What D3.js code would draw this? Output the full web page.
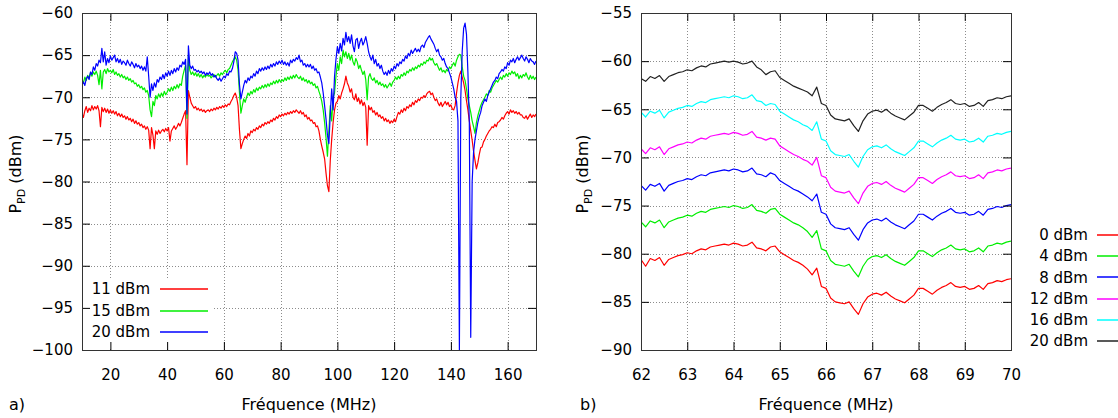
<!DOCTYPE html>
<html><head><meta charset="utf-8">
<script src="https://cdn.jsdelivr.net/npm/d3@7"></script>
<style>
body{margin:0;background:#fff;}
svg{display:block;font-family:"DejaVu Sans",Verdana,sans-serif;}
</style></head><body>
<svg id="c" width="1118" height="418"></svg>
<script>
// ---------- Panel a) : 10–170 MHz, sampled every 0.5 MHz ----------
const freqA = d3.range(321).map(i => 10 + i * 0.5);
const xTicksA = [20, 40, 60, 80, 100, 120, 140, 160];
const yTicksA = [-60, -65, -70, -75, -80, -85, -90, -95, -100];
const labelsA = ["11 dBm", "15 dBm", "20 dBm"];

const p11 = [
-71.9,-72.4,-71.6,-71.1,-71.8,-71.3,-71.6,-71.0,-71.5,-71.1,
-71.4,-71.0,-71.6,-73.5,-71.2,-71.7,-71.3,-71.8,-71.4,-71.9,
-71.5,-71.9,-71.6,-72.0,-71.7,-72.2,-71.9,-72.3,-72.0,-72.4,
-72.2,-72.6,-72.3,-72.7,-72.5,-72.9,-72.6,-73.1,-72.8,-73.2,
-73.0,-73.4,-73.2,-73.6,-73.4,-73.8,-73.5,-73.9,-76.1,-73.6,
-74.5,-76.1,-74.0,-74.4,-73.9,-74.3,-74.0,-73.8,-74.1,-73.7,
-74.0,-73.6,-75.2,-74.0,-73.7,-73.4,-73.8,-73.5,-73.1,-73.4,
-73.0,-72.5,-72.0,-71.6,-78.0,-69.2,-70.0,-70.7,-71.0,-71.3,
-71.1,-71.5,-71.3,-71.6,-71.4,-71.7,-71.5,-71.8,-71.6,-71.5,
-71.7,-71.4,-71.6,-71.3,-71.5,-71.2,-71.4,-71.1,-71.3,-71.0,
-71.2,-70.9,-71.1,-70.8,-70.9,-70.5,-70.2,-69.8,-69.5,-70.0,
-71.0,-73.9,-76.1,-75.5,-75.0,-74.6,-74.9,-74.3,-74.6,-74.0,
-74.2,-73.8,-74.0,-73.6,-73.8,-73.4,-73.6,-73.2,-73.4,-73.0,
-73.2,-72.9,-73.1,-72.7,-72.9,-72.5,-72.7,-72.3,-72.5,-72.1,
-72.3,-72.0,-72.2,-71.9,-72.1,-71.8,-72.0,-71.7,-71.9,-71.6,
-71.8,-71.5,-71.7,-71.9,-71.6,-72.0,-71.8,-72.3,-72.1,-72.6,
-72.4,-72.8,-72.7,-73.1,-73.0,-73.5,-73.4,-74.0,-75.0,-75.8,
-76.5,-77.3,-79.0,-80.5,-81.2,-77.5,-75.0,-73.0,-71.5,-70.7,
-70.5,-69.8,-70.2,-69.5,-69.0,-68.4,-67.5,-68.3,-68.7,-69.4,
-69.0,-70.0,-70.3,-69.6,-70.5,-70.1,-70.8,-70.3,-71.0,-70.6,
-71.2,-75.7,-71.0,-71.5,-71.2,-71.8,-71.6,-72.1,-71.8,-72.3,
-72.1,-72.5,-72.3,-72.8,-72.5,-72.9,-72.7,-73.1,-72.8,-73.0,
-72.6,-72.9,-72.3,-71.8,-72.0,-71.5,-71.8,-71.3,-71.6,-71.1,
-71.3,-70.9,-71.1,-70.6,-70.9,-70.4,-70.6,-70.2,-70.4,-70.0,
-70.1,-69.8,-70.0,-69.6,-69.4,-69.3,-69.7,-69.5,-70.0,-70.4,
-70.2,-70.7,-71.0,-70.6,-71.1,-70.8,-70.5,-70.9,-70.6,-71.1,
-70.9,-71.4,-71.5,-71.0,-69.5,-68.3,-67.4,-66.9,-67.6,-68.3,
-69.2,-70.4,-71.5,-72.8,-74.0,-75.1,-76.4,-77.5,-78.5,-77.8,
-76.8,-76.0,-75.9,-75.3,-75.0,-74.6,-74.3,-74.0,-73.8,-73.5,
-73.6,-73.2,-73.5,-73.0,-72.9,-72.7,-72.4,-72.6,-72.2,-71.9,
-71.7,-72.0,-71.5,-71.8,-71.6,-71.9,-71.7,-72.0,-71.8,-72.1,
-72.1,-72.4,-72.5,-72.2,-72.6,-72.3,-72.0,-72.4,-72.1,-72.3,
-72.0];

const p15 = [
-67.9,-68.3,-67.6,-68.0,-67.4,-67.7,-67.1,-67.5,-67.0,-67.3,
-66.9,-67.4,-68.5,-66.8,-69.0,-67.0,-66.7,-67.2,-66.6,-67.0,
-66.8,-67.1,-66.7,-67.3,-67.0,-67.4,-67.2,-67.6,-67.3,-67.7,
-67.5,-67.9,-67.6,-68.0,-67.8,-68.2,-68.0,-68.4,-68.3,-68.7,
-68.5,-68.9,-68.7,-69.1,-68.9,-69.4,-69.2,-69.8,-71.5,-72.3,
-70.5,-71.0,-69.8,-70.2,-69.6,-70.0,-69.5,-69.9,-69.3,-69.7,
-69.4,-69.0,-69.3,-68.8,-69.2,-68.7,-69.0,-68.5,-68.9,-68.4,
-68.6,-67.5,-66.8,-66.2,-72.5,-65.0,-66.8,-67.3,-67.0,-67.4,
-67.1,-67.5,-67.2,-67.6,-67.3,-67.7,-67.4,-67.6,-67.3,-67.5,
-67.4,-67.7,-67.5,-67.3,-67.6,-67.4,-67.2,-67.5,-67.1,-67.3,
-67.0,-66.8,-67.1,-66.7,-66.6,-66.2,-65.8,-65.5,-65.2,-65.6,
-66.8,-69.5,-71.9,-71.0,-70.2,-70.6,-70.0,-69.5,-69.8,-69.3,
-69.6,-69.1,-69.4,-68.9,-69.2,-68.8,-69.0,-68.6,-68.9,-68.5,
-68.8,-68.4,-68.7,-68.3,-68.5,-68.1,-68.4,-68.0,-68.3,-67.9,
-68.2,-67.9,-68.1,-67.7,-68.0,-67.6,-67.9,-67.5,-67.8,-67.4,
-67.7,-67.3,-67.6,-67.8,-67.5,-68.0,-67.7,-68.1,-67.9,-68.3,
-68.0,-68.4,-68.2,-68.6,-68.4,-68.9,-68.7,-69.3,-69.8,-70.5,
-71.5,-73.0,-74.8,-77.0,-74.0,-71.0,-72.8,-70.0,-69.5,-67.5,
-66.0,-66.8,-65.2,-66.0,-64.4,-65.2,-64.6,-65.4,-64.8,-65.6,
-65.0,-65.8,-66.2,-65.4,-65.8,-66.6,-66.2,-66.8,-67.3,-66.9,
-67.9,-70.3,-67.6,-67.2,-67.8,-68.0,-67.7,-68.3,-68.0,-68.5,
-68.2,-68.6,-68.4,-68.8,-68.5,-68.9,-68.6,-68.3,-68.7,-68.2,
-68.0,-67.6,-67.9,-67.5,-67.8,-67.3,-67.5,-67.1,-67.4,-66.9,
-67.1,-66.7,-66.9,-66.5,-66.8,-66.4,-66.6,-66.2,-66.4,-66.0,
-66.2,-65.8,-66.0,-65.6,-65.7,-65.3,-65.6,-65.4,-65.9,-66.2,
-66.0,-66.4,-66.8,-66.5,-67.0,-66.8,-67.1,-66.7,-66.9,-66.4,
-66.6,-66.2,-65.9,-66.3,-65.6,-65.2,-64.9,-65.0,-66.4,-67.5,
-68.0,-69.0,-70.2,-71.0,-71.8,-72.8,-73.5,-74.3,-73.0,-72.2,
-71.6,-71.0,-70.6,-70.3,-70.0,-69.6,-69.8,-69.2,-69.4,-68.9,
-68.6,-68.3,-68.0,-68.2,-67.9,-67.6,-67.9,-67.4,-67.6,-67.2,
-67.5,-67.1,-67.3,-66.9,-67.2,-67.0,-67.5,-67.2,-67.8,-67.4,
-67.7,-67.3,-67.5,-67.1,-67.6,-67.9,-67.4,-67.8,-67.5,-67.9,
-67.6];

const p20 = [
-68.5,-68.2,-68.6,-67.8,-67.5,-67.9,-67.0,-67.3,-66.4,-66.8,
-66.0,-66.3,-65.6,-65.9,-64.2,-65.8,-64.6,-66.2,-65.4,-65.9,
-65.1,-65.6,-65.3,-65.0,-65.8,-65.4,-65.9,-65.5,-66.1,-65.7,
-65.9,-66.2,-65.6,-66.0,-66.3,-65.8,-66.1,-66.5,-66.0,-66.4,
-66.2,-66.6,-66.3,-66.8,-66.4,-66.9,-65.2,-67.5,-70.0,-68.4,
-69.2,-68.3,-68.8,-67.9,-68.2,-67.6,-67.9,-67.3,-67.8,-67.1,
-67.5,-66.9,-67.4,-66.8,-67.2,-66.6,-67.0,-66.5,-66.8,-66.2,
-66.4,-65.8,-66.1,-65.5,-72.0,-63.9,-66.2,-66.6,-66.3,-66.8,
-66.7,-67.0,-66.8,-67.1,-66.9,-67.2,-67.0,-67.4,-67.1,-67.3,
-67.0,-67.4,-67.2,-67.6,-67.4,-67.8,-68.0,-67.7,-68.1,-67.8,
-67.5,-67.7,-67.2,-67.4,-66.9,-67.0,-66.6,-65.8,-64.6,-64.8,
-65.6,-68.5,-70.2,-69.4,-68.6,-68.0,-68.3,-67.7,-68.0,-67.5,
-67.7,-67.2,-67.5,-66.9,-67.2,-66.6,-66.9,-66.5,-66.8,-66.4,
-66.7,-66.3,-66.6,-66.1,-66.4,-66.0,-66.3,-65.8,-66.1,-65.7,
-66.0,-65.6,-66.1,-65.8,-66.2,-65.9,-66.3,-65.6,-65.9,-65.5,
-65.7,-65.3,-65.5,-65.0,-65.8,-65.6,-66.2,-66.0,-66.4,-66.1,
-66.4,-66.1,-66.6,-66.3,-66.8,-66.6,-67.1,-67.0,-67.6,-68.3,
-69.5,-71.0,-72.6,-74.5,-75.5,-72.0,-69.0,-71.5,-67.5,-65.5,
-64.0,-64.8,-63.6,-64.5,-63.0,-63.8,-62.3,-63.4,-62.8,-63.6,
-62.6,-63.9,-64.6,-63.2,-63.0,-64.2,-63.4,-63.0,-63.8,-63.4,
-62.8,-63.6,-64.6,-65.2,-65.6,-65.0,-66.0,-65.5,-66.3,-66.0,
-66.6,-66.2,-66.9,-67.3,-67.0,-67.4,-66.8,-67.2,-66.6,-66.9,
-66.3,-66.6,-66.0,-66.3,-65.8,-66.0,-65.5,-65.7,-65.1,-65.4,
-64.8,-65.1,-64.4,-64.8,-64.5,-64.2,-64.6,-64.3,-64.6,-64.0,
-63.8,-64.1,-63.5,-63.2,-62.9,-62.7,-63.1,-63.4,-63.7,-64.2,
-64.6,-64.3,-65.0,-65.2,-65.6,-65.4,-66.0,-66.4,-66.6,-67.1,
-67.6,-68.3,-69.0,-70.0,-70.5,-72.8,-100,-70.0,-64.5,-61.8,
-61.2,-62.5,-67.0,-73.0,-98.5,-80.0,-76.5,-75.0,-74.0,-73.0,
-72.3,-71.8,-71.0,-70.6,-70.2,-70.5,-69.8,-69.4,-69.0,-68.6,
-68.2,-68.0,-67.6,-67.8,-67.2,-67.0,-66.7,-66.9,-66.4,-66.6,
-65.9,-66.2,-65.6,-65.8,-65.4,-65.9,-65.5,-65.2,-65.6,-65.3,
-65.0,-65.4,-65.7,-65.2,-65.5,-65.9,-65.4,-65.7,-65.8,-66.1,
-65.7];

// ---------- Panel b) : 62–70 MHz, sampled every 0.1 MHz ----------
const freqB = d3.range(81).map(i => +(62 + i * 0.1).toFixed(1));
const xTicksB = [62, 63, 64, 65, 66, 67, 68, 69, 70];
const yTicksB = [-55, -60, -65, -70, -75, -80, -85, -90];
const labelsB = ["0 dBm", "4 dBm", "8 dBm", "12 dBm", "16 dBm", "20 dBm"];

const q0 = [
-80.6,-81.3,-80.5,-80.7,-80.4,-81.2,-80.6,-80.4,-80.2,-80.1,
-79.9,-80.0,-79.7,-79.5,-79.6,-79.3,-79.2,-79.1,-79.0,-79.1,
-78.9,-79.0,-79.2,-79.1,-78.8,-79.4,-79.5,-79.7,-79.3,-79.2,
-79.8,-80.1,-80.4,-80.7,-80.9,-81.2,-81.6,-82.2,-81.5,-83.4,
-83.6,-84.6,-85.0,-85.1,-85.2,-85.0,-85.7,-86.3,-85.2,-84.5,
-84.2,-84.1,-84.3,-84.0,-84.4,-84.7,-84.9,-85.1,-84.7,-84.3,
-83.6,-83.6,-83.9,-84.2,-83.8,-83.5,-83.3,-83.0,-83.4,-83.5,
-83.4,-83.7,-83.6,-83.3,-83.7,-83.1,-83.0,-82.8,-82.9,-82.7,
-82.6];
const q4 = [
-76.7,-77.2,-76.6,-76.8,-76.5,-77.3,-76.7,-76.5,-76.3,-76.2,
-76.0,-76.1,-75.8,-75.6,-75.7,-75.4,-75.3,-75.2,-75.1,-75.2,
-75.0,-75.1,-75.3,-75.2,-74.9,-75.5,-75.6,-75.8,-75.4,-75.3,
-75.9,-76.2,-76.5,-76.8,-77.0,-77.3,-77.7,-78.3,-77.6,-79.5,
-79.7,-80.7,-81.1,-81.2,-81.3,-81.1,-81.8,-82.4,-81.3,-80.6,
-80.3,-80.2,-80.4,-80.1,-80.5,-80.8,-81.0,-81.2,-80.8,-80.4,
-79.7,-79.7,-80.0,-80.3,-79.9,-79.6,-79.4,-79.1,-79.5,-79.6,
-79.5,-79.8,-79.7,-79.4,-79.8,-79.2,-79.1,-78.9,-79.0,-78.8,
-78.7];
const q8 = [
-72.9,-73.4,-72.8,-73.0,-72.7,-73.5,-72.9,-72.7,-72.5,-72.4,
-72.2,-72.3,-72.0,-71.8,-71.9,-71.6,-71.5,-71.4,-71.3,-71.4,
-71.2,-71.3,-71.5,-71.4,-71.1,-71.7,-71.8,-72.0,-71.6,-71.8,
-72.4,-72.7,-73.0,-73.3,-73.5,-73.8,-74.1,-74.5,-73.8,-75.7,
-75.9,-76.9,-77.3,-77.4,-77.5,-77.3,-78.0,-78.6,-77.5,-76.8,
-76.5,-76.4,-76.6,-76.3,-76.7,-77.0,-77.2,-77.4,-77.0,-76.6,
-75.9,-75.9,-76.2,-76.5,-76.1,-75.8,-75.6,-75.3,-75.7,-75.8,
-75.7,-76.0,-75.9,-75.6,-76.0,-75.4,-75.3,-75.1,-75.2,-75.0,
-74.9];
const q12 = [
-69.1,-69.6,-69.0,-69.2,-68.9,-69.7,-69.1,-68.9,-68.7,-68.6,
-68.4,-68.5,-68.2,-68.0,-68.1,-67.8,-67.7,-67.6,-67.5,-67.6,
-67.4,-67.5,-67.7,-67.6,-67.3,-67.9,-68.0,-68.2,-68.0,-68.1,
-68.8,-69.1,-69.4,-69.7,-69.9,-70.2,-70.4,-70.8,-70.0,-71.9,
-72.1,-73.1,-73.5,-73.6,-73.7,-73.5,-74.2,-74.8,-73.7,-73.0,
-72.7,-72.6,-72.8,-72.5,-72.9,-73.2,-73.4,-73.6,-73.2,-72.8,
-72.1,-72.1,-72.4,-72.7,-72.3,-72.0,-71.8,-71.5,-71.9,-72.0,
-71.9,-72.2,-72.1,-71.8,-72.2,-71.6,-71.5,-71.3,-71.4,-71.2,
-71.1];
const q16 = [
-65.3,-65.8,-65.2,-65.4,-65.1,-65.9,-65.3,-65.1,-64.9,-64.8,
-64.6,-64.7,-64.4,-64.2,-64.3,-64.0,-63.9,-63.8,-63.7,-63.8,
-63.6,-63.7,-63.9,-63.8,-63.5,-64.1,-64.2,-64.6,-64.4,-64.5,
-65.2,-65.5,-65.8,-66.1,-66.3,-66.6,-66.8,-67.2,-66.3,-68.1,
-68.3,-69.3,-69.7,-69.8,-69.9,-69.7,-70.4,-71.0,-69.9,-69.2,
-68.9,-68.8,-69.0,-68.7,-69.1,-69.4,-69.6,-69.8,-69.4,-69.0,
-68.3,-68.3,-68.6,-68.9,-68.5,-68.2,-68.0,-67.7,-68.1,-68.2,
-68.1,-68.4,-68.3,-68.0,-68.4,-67.8,-67.7,-67.5,-67.6,-67.4,
-67.3];
const q20 = [
-61.8,-62.1,-61.6,-61.8,-61.5,-62.1,-61.6,-61.4,-61.2,-61.1,
-60.9,-61.0,-60.7,-60.5,-60.6,-60.3,-60.2,-60.1,-60.0,-60.1,
-60.0,-60.1,-60.3,-60.2,-60.0,-60.6,-60.9,-61.4,-61.1,-61.0,
-61.7,-62.0,-62.3,-62.6,-62.8,-63.0,-63.2,-63.6,-62.7,-64.4,
-64.6,-65.6,-66.0,-66.1,-66.2,-66.0,-66.7,-67.3,-66.2,-65.5,
-65.2,-65.1,-65.3,-65.0,-65.4,-65.7,-65.9,-66.1,-65.7,-65.3,
-64.6,-64.6,-64.9,-65.2,-64.8,-64.5,-64.3,-64.0,-64.4,-64.5,
-64.4,-64.7,-64.6,-64.3,-64.7,-64.1,-64.0,-63.8,-63.9,-63.7,
-63.6];

const colorsA = ["#ff0000", "#00ee00", "#0000ff"];
const colorsB = ["#ff0000", "#00ee00", "#0000ff", "#ff00ff", "#00ffff", "#222222"];

const svg = d3.select("#c");
const FONT = 15;

function drawPanel(cfg) {
  const x = d3.scaleLinear().domain(cfg.xd).range([cfg.x0, cfg.x1]);
  const y = d3.scaleLinear().domain(cfg.yd).range([cfg.y1, cfg.y0]);
  const g = svg.append("g");

  // grid
  g.append("g").selectAll("line")
    .data(cfg.xt.filter(v => v > cfg.xd[0] && v < cfg.xd[1])).join("line")
    .attr("x1", d => Math.round(x(d)) + 0.5).attr("x2", d => Math.round(x(d)) + 0.5)
    .attr("y1", cfg.y0).attr("y2", cfg.y1)
    .attr("stroke", "#8c8c8c").attr("stroke-width", 1).attr("stroke-dasharray", "1,2");
  g.append("g").selectAll("line")
    .data(cfg.yt.filter(v => v > cfg.yd[0] && v < cfg.yd[1])).join("line")
    .attr("y1", d => Math.round(y(d)) + 0.5).attr("y2", d => Math.round(y(d)) + 0.5)
    .attr("x1", cfg.x0).attr("x2", cfg.x1)
    .attr("stroke", "#8c8c8c").attr("stroke-width", 1).attr("stroke-dasharray", "1,2");

  // clip
  const cid = "clip" + cfg.id;
  svg.append("defs").append("clipPath").attr("id", cid).append("rect")
    .attr("x", cfg.x0).attr("y", cfg.y0).attr("width", cfg.x1 - cfg.x0).attr("height", cfg.y1 - cfg.y0);

  const line = d3.line().x(d => x(d[0])).y(d => y(d[1]));
  const pg = g.append("g").attr("clip-path", `url(#${cid})`);
  cfg.series.forEach((s, i) => {
    pg.append("path")
      .attr("d", line(cfg.freq.map((f, k) => [f, s[k]])))
      .attr("fill", "none").attr("stroke", cfg.colors[i]).attr("stroke-width", 1.2)
      .attr("stroke-linejoin", "round");
  });

  // legend
  if (cfg.legendBox) {
    g.append("rect").attr("x", cfg.legendBox[0]).attr("y", cfg.legendBox[1])
      .attr("width", cfg.legendBox[2]).attr("height", cfg.legendBox[3]).attr("fill", "#fff");
  }
  const lg = g.append("g");
  cfg.labels.forEach((lab, i) => {
    const yy = cfg.legY + i * cfg.legDy;
    lg.append("text").attr("x", cfg.legTx).attr("y", yy).attr("dy", "0.35em")
      .attr("text-anchor", "end").attr("font-size", FONT).attr("fill", "#000").text(lab);
    lg.append("line").attr("x1", cfg.legL0).attr("x2", cfg.legL1)
      .attr("y1", Math.round(yy)).attr("y2", Math.round(yy))
      .attr("stroke", cfg.colors[i]).attr("stroke-width", 1.6);
  });

  // axes (ticks inward on all four sides)
  const styleAxis = sel => {
    sel.select(".domain").remove();
    sel.selectAll(".tick line").attr("stroke", "#000");
    sel.selectAll("text").attr("font-size", FONT).attr("fill", "#000")
      .attr("font-family", '"DejaVu Sans",Verdana,sans-serif');
  };
  g.append("g").attr("transform", `translate(0,${cfg.y1})`)
    .call(d3.axisBottom(x).tickValues(cfg.xt).tickSize(-8).tickSizeOuter(0).tickPadding(19))
    .call(styleAxis);
  g.append("g").attr("transform", `translate(0,${cfg.y0})`)
    .call(d3.axisTop(x).tickValues(cfg.xt).tickSize(-8).tickSizeOuter(0).tickFormat(""))
    .call(styleAxis);
  g.append("g").attr("transform", `translate(${cfg.x0},0)`)
    .call(d3.axisLeft(y).tickValues(cfg.yt).tickSize(-8).tickSizeOuter(0).tickPadding(9))
    .call(styleAxis);
  g.append("g").attr("transform", `translate(${cfg.x1},0)`)
    .call(d3.axisRight(y).tickValues(cfg.yt).tickSize(-8).tickSizeOuter(0).tickFormat(""))
    .call(styleAxis);

  // frame
  g.append("rect").attr("x", cfg.x0 + 0.5).attr("y", cfg.y0 + 0.5)
    .attr("width", cfg.x1 - cfg.x0).attr("height", cfg.y1 - cfg.y0)
    .attr("fill", "none").attr("stroke", "#333").attr("stroke-width", 1);

  // axis titles
  g.append("text").attr("x", (cfg.x0 + cfg.x1) / 2).attr("y", 410)
    .attr("text-anchor", "middle").attr("font-size", 16).attr("fill", "#000")
    .text("Fréquence (MHz)");
  const yt = g.append("text")
    .attr("transform", `translate(${cfg.ytx},174) rotate(-90)`)
    .attr("text-anchor", "middle").attr("font-size", 16).attr("fill", "#000");
  yt.append("tspan").text("P");
  yt.append("tspan").attr("font-size", 11).attr("dy", 4).text("PD");
  yt.append("tspan").attr("dy", -4).text(" (dBm)");

  g.append("text").attr("x", cfg.tagX).attr("y", 410).attr("font-size", 16)
    .attr("fill", "#000").text(cfg.tag);
}

drawPanel({
  id: "A", x0: 82, x1: 536, y0: 13, y1: 350,
  xd: [10, 170], yd: [-100, -60], xt: xTicksA, yt: yTicksA,
  freq: freqA, series: [p11, p15, p20], colors: colorsA, labels: labelsA,
  legendBox: [83, 279, 130, 70], legY: 289, legDy: 21.5, legTx: 150, legL0: 160, legL1: 208,
  ytx: 21, tag: "a)", tagX: 9
});

drawPanel({
  id: "B", x0: 641, x1: 1011, y0: 13, y1: 350,
  xd: [62, 70], yd: [-90, -55], xt: xTicksB, yt: yTicksB,
  freq: freqB, series: [q0, q4, q8, q12, q16, q20], colors: colorsB, labels: labelsB,
  legendBox: null, legY: 235, legDy: 21.2, legTx: 1088, legL0: 1097, legL1: 1130,
  ytx: 588, tag: "b)", tagX: 580
});
</script></body></html>
